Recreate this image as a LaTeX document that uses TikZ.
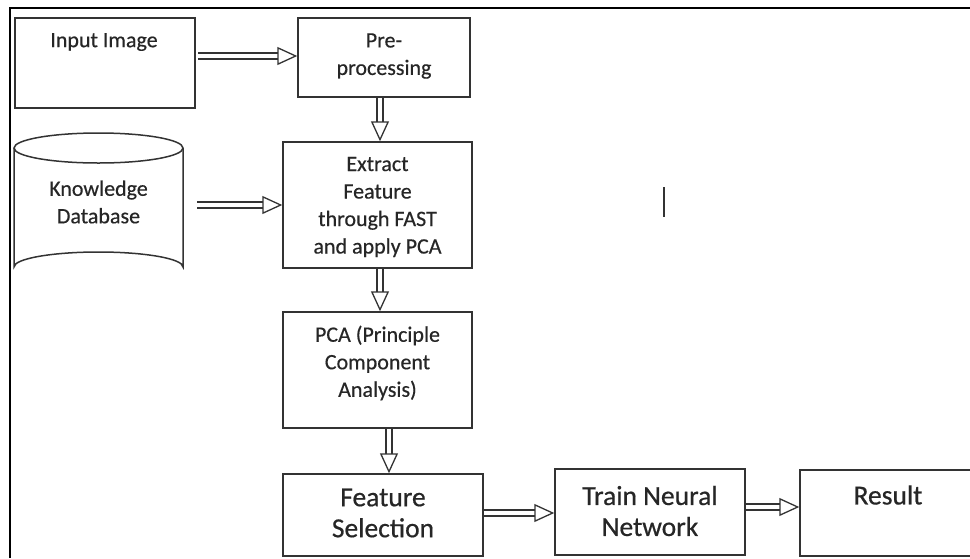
\documentclass[tikz,border=0pt]{standalone}
\usepackage{fontspec}
\setmainfont{Carlito}
\usetikzlibrary{arrows.meta}
\definecolor{ln}{HTML}{333333}
\definecolor{tx}{HTML}{262626}
\tikzset{
  box/.style={draw=ln, line width=1.5pt, rectangle, inner sep=0pt},
  txt/.style={text=tx, font=\fontsize{22}{27.5}\selectfont\addfontfeatures{FakeBold=0.4}, align=center, inner sep=0pt},
  bigtxt/.style={text=tx, font=\fontsize{27.5}{31}\selectfont\addfontfeatures{FakeBold=0.6}, align=center, inner sep=0pt},
  dar/.style={draw=ln, line width=1.5pt, double=white, double distance=4.5pt,
    -{Triangle[open, length=20pt, width=18pt, line width=1.3pt]}},
}
\begin{document}
\begin{tikzpicture}[x=1pt,y=-1pt]
\useasboundingbox (0,0) rectangle (970,558);
\fill[white] (0,0) rectangle (970,558);
% outer frame
\draw[black, line width=2.4pt] (10,558) -- (10,8) -- (970,8);
% boxes
\node[box, minimum width=180, minimum height=90] (inp) at (105,63) {};
\node[txt] (inpt) at (104,42) {Input Image};
\node[box, minimum width=172, minimum height=79] (pre) at (384,57.5) {};
\node[txt] (pret) at (384,56) {Pre-\\processing};
\node[box, minimum width=189, minimum height=126] (ext) at (377.5,205) {};
\node[txt] (extt) at (377.5,207) {Extract\\Feature\\through FAST\\and apply PCA};
\node[box, minimum width=189, minimum height=116] (pca) at (377.5,370) {};
\node[txt] (pcat) at (377.5,363) {PCA (Principle\\Component\\Analysis)};
\node[box, minimum width=200, minimum height=82] (feat) at (383,515) {};
\node[bigtxt] (featt) at (383,513) {Feature\\Selection};
\node[box, minimum width=190, minimum height=86] (train) at (650,512) {};
\node[bigtxt] (traint) at (650,511) {Train Neural\\Network};
\node[box, minimum width=180, minimum height=86] (res) at (890,513) {};
\node[bigtxt] (rest) at (888,495) {Result};
% cylinder
\draw[ln, line width=1.5pt] (14,148) -- (14,267) arc[start angle=180, end angle=360, x radius=84.5, y radius=15] -- (183,148);
\draw[ln, line width=1.5pt] (98.5,148) ellipse[x radius=84.5, y radius=15];
\node[txt] (kbt) at (98.5,202) {Knowledge\\Database};
\coordinate (kbout) at (197,205);
\coordinate (inout) at (198,56);
% stray cursor mark
\coordinate (cur1) at (664,187);
\coordinate (cur2) at (664,217);
\draw[ln, line width=1.5pt] (cur1) -- (cur2);
% connectors
\draw[dar] (inout) -- (inout -| pre.west);
\draw[dar] ([xshift=-4]pre.south) -- ([xshift=2.5]ext.north);
\draw[dar] (kbout) -- (kbout -| ext.west);
\draw[dar] ([xshift=2.5]ext.south) -- ([xshift=2.5]pca.north);
\draw[dar] ([xshift=11.5]pca.south) -- ([xshift=6]feat.north);
\draw[dar] ([yshift=2]feat.east) -- ([yshift=2]feat.east -| train.west);
\draw[dar] ([yshift=5]train.east) -- ([yshift=5]train.east -| res.west);
\end{tikzpicture}
\end{document}
